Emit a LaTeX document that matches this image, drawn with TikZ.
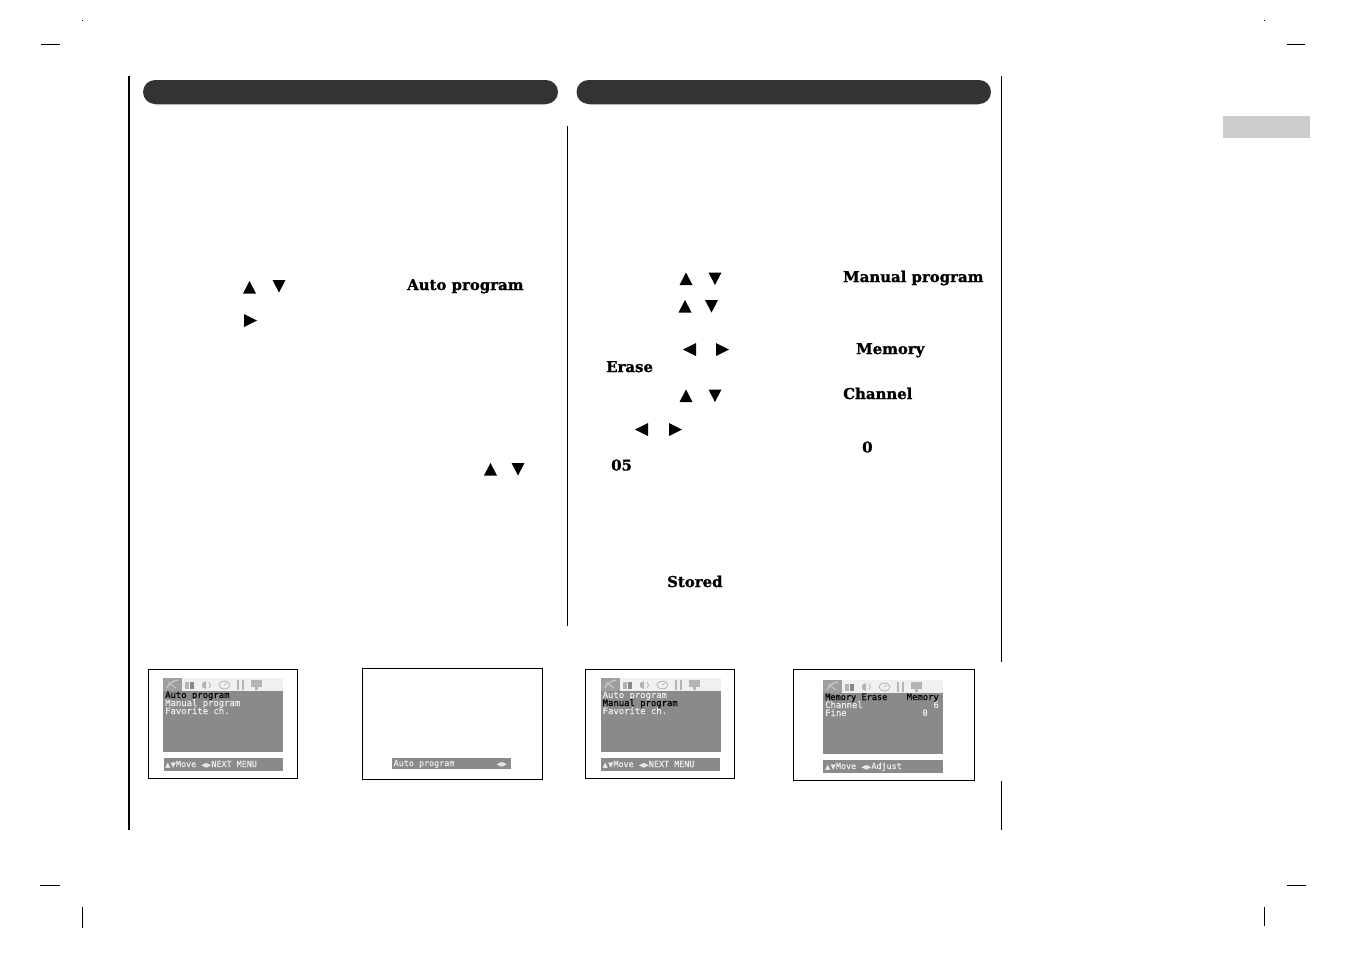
\documentclass[tikz,border=0pt]{standalone}
\usepackage{fontspec}
\newfontfamily\slabfont{DejaVu Serif}[BoldFont={DejaVu Serif Bold},BoldFeatures={FakeBold=1.2}]
\newfontfamily\osdfont{DejaVu Sans Mono}[FakeBold=0.5]
\newfontfamily\symfont{DejaVu Sans}
\definecolor{bar}{HTML}{333333}
\definecolor{osd}{HTML}{8A8A8A}
\definecolor{strip}{HTML}{F0F0F0}
\definecolor{iconc}{HTML}{B4B4B4}
\newcommand{\ud}{{\symfont\fontsize{7}{10}\selectfont ▲▼}}
\newcommand{\lr}{{\symfont\fontsize{6.6}{10}\selectfont ◀▶}}
\tikzset{
  slab/.style={inner sep=0pt,anchor=base west,font=\slabfont\bfseries\fontsize{14.9}{16}\selectfont},
  osdw/.style={inner sep=0pt,anchor=base west,text=white!92!black,font=\osdfont\fontsize{8.9}{10}\selectfont},
  osdk/.style={osdw,text=black},
  osdf/.style={osdw,font=\osdfont\fontsize{8.4}{10}\selectfont},
  crop/.style={line width=1pt,black},
  frameb/.style={draw=black,line width=1pt,fill=white},
  headbar/.style={fill=bar,rounded corners=12pt},
  headshadow/.style={fill=black!22,rounded corners=12pt},
}
% triangles: left/top corner position
\newcommand{\triU}[2]{\fill[black] (#1,#2+12.5) -- (#1+13,#2+12.5) -- (#1+6.5,#2) -- cycle;}
\newcommand{\triD}[2]{\fill[black] (#1,#2) -- (#1+13,#2) -- (#1+6.5,#2+12.5) -- cycle;}
\newcommand{\triR}[2]{\fill[black] (#1,#2) -- (#1+13,#2+6.5) -- (#1,#2+13) -- cycle;}
\newcommand{\triL}[2]{\fill[black] (#1+13,#2) -- (#1,#2+6.5) -- (#1+13,#2+13) -- cycle;}
% icon strip + grey panel: #1 left x, #2 strip top y
\newcommand{\osdpanel}[2]{%
  \begin{scope}[shift={(#1,#2)}]
    \fill[strip] (0,0) rectangle (120,13);
    \fill[osd] (0,13) rectangle (120,74);
    \fill[black!38] (0,0) rectangle (19,13);
    \draw[black!22,line width=1.4pt] (4,10) .. controls (7,3) and (12,3) .. (15,2);
    \draw[black!22,line width=1pt] (5,4) -- (13,10);
    \fill[iconc] (22,4) rectangle (26,11);
    \fill[iconc!75!black] (27,4) rectangle (31,11);
    \fill[iconc] (39,5) -- (43,3) -- (43,11) -- (39,9) -- cycle;
    \draw[iconc,line width=.8pt] (46,4) .. controls (48,6) and (48,8) .. (46,10);
    \draw[iconc,line width=.8pt] (61.5,7) ellipse (5.5 and 4);
    \draw[iconc,line width=.6pt] (61,7) -- (64,5);
    \draw[iconc,line width=1.3pt] (75,2) -- (75,12);
    \draw[iconc,line width=1.3pt] (80,2) -- (80,12);
    \fill[iconc] (88,2) rectangle (99,9);
    \fill[iconc] (92,9) rectangle (95,12);
  \end{scope}}
\begin{document}
\begin{tikzpicture}[x=1pt,y=-1pt]
\useasboundingbox (0,0) rectangle (1351,954);
\fill[white] (0,0) rectangle (1351,954);

% crop marks
\fill[black] (82,20) rectangle (83,21);
\fill[black] (1264,20) rectangle (1265,21);
\draw[crop] (41,44.5) -- (60,44.5);
\draw[crop] (1287,44.5) -- (1305,44.5);
\draw[crop] (40,885.5) -- (60,885.5);
\draw[crop] (1287,885.5) -- (1306,885.5);
\draw[crop] (82.5,907) -- (82.5,928);
\draw[crop] (1264.5,907) -- (1264.5,926);

% rules
\draw[black,line width=2pt] (129,76) -- (129,830);
\draw[black,line width=1pt] (567.5,126) -- (567.5,626);
\draw[black,line width=1.2pt] (1001.5,76) -- (1001.5,662);
\draw[black,line width=1.2pt] (1001.5,781) -- (1001.5,830);

% header bars
\fill[headshadow] (146,82) rectangle (555,105);
\fill[headbar] (143,80) rectangle (558,104);
\fill[headshadow] (580,82) rectangle (988,105);
\fill[headbar] (576.5,80) rectangle (991,104);

% tab
\fill[black!20] (1223,116) rectangle (1310,138);

% left column
\triU{243}{281}\triD{272.5}{280}\triR{244}{314}
\triU{484}{463}\triD{511.5}{463}
\node[slab] (autoprog) at (407,290) {Auto program};

% right column
\triU{679.5}{272.5}\triD{708.5}{272.5}
\triU{678.5}{300}\triD{705}{300}
\triL{683}{343}\triR{716}{343}
\triU{679.5}{389.5}\triD{708.5}{389.5}
\triL{635}{423}\triR{669}{423}
\node[slab] (manprog) at (843,282) {Manual program};
\node[slab] (memory) at (856,354) {Memory};
\node[slab] (erase) at (606,372) {Erase};
\node[slab] (channel) at (843,399) {Channel};
\node[slab] (zero) at (862,452.5) {0};
\node[slab] (ofive) at (611,470.5) {05};
\node[slab] (stored) at (667,587) {Stored};

% screen 1
\draw[frameb] (148.5,669.5) rectangle (297.5,778.5);
\osdpanel{163}{678}
\fill[osd] (164,758) rectangle (283,771);
\node[osdk] (s1a) at (165,698) {Auto program};
\node[osdw] (s1b) at (165,706) {Manual program};
\node[osdw] (s1c) at (165,714) {Favorite ch.};
\node[osdf] (s1f) at (165,767) {\ud Move \lr NEXT MENU};

% screen 2
\draw[frameb] (362.5,668.5) rectangle (542.5,779.5);
\fill[osd] (392,758) rectangle (511,769);
\node[osdf] (s2a) at (393.5,766) {Auto program};
\node[osdf] (s2b) at (496.5,766) {\lr};

% screen 3
\draw[frameb] (585.5,669.5) rectangle (734.5,778.5);
\osdpanel{601}{678}
\fill[osd] (601,758) rectangle (720,771);
\node[osdw] (s3a) at (602.5,698) {Auto program};
\node[osdk] (s3b) at (602.5,706) {Manual program};
\node[osdw] (s3c) at (602.5,714) {Favorite ch.};
\node[osdf] (s3f) at (602.5,767) {\ud Move \lr NEXT MENU};

% screen 4
\draw[frameb] (793.5,669.5) rectangle (974.5,780.5);
\osdpanel{823}{680}
\fill[osd] (823,760) rectangle (943,773);
\node[osdk,font=\osdfont\fontsize{8.6}{10}\selectfont] (s4a) at (825,700) {Memory Erase};
\node[osdk,anchor=base east] (s4b) at (939,700) {Memory};
\node[osdw] (s4c) at (825,708) {Channel};
\node[osdw,anchor=base east] (s4d) at (939,708) {6};
\node[osdw] (s4e) at (825,716) {Fine};
\node[osdw,anchor=base east] (s4g) at (928,716) {0};
\node[osdf] (s4f) at (825,769) {\ud Move \lr Adjust};
\end{tikzpicture}
\end{document}
